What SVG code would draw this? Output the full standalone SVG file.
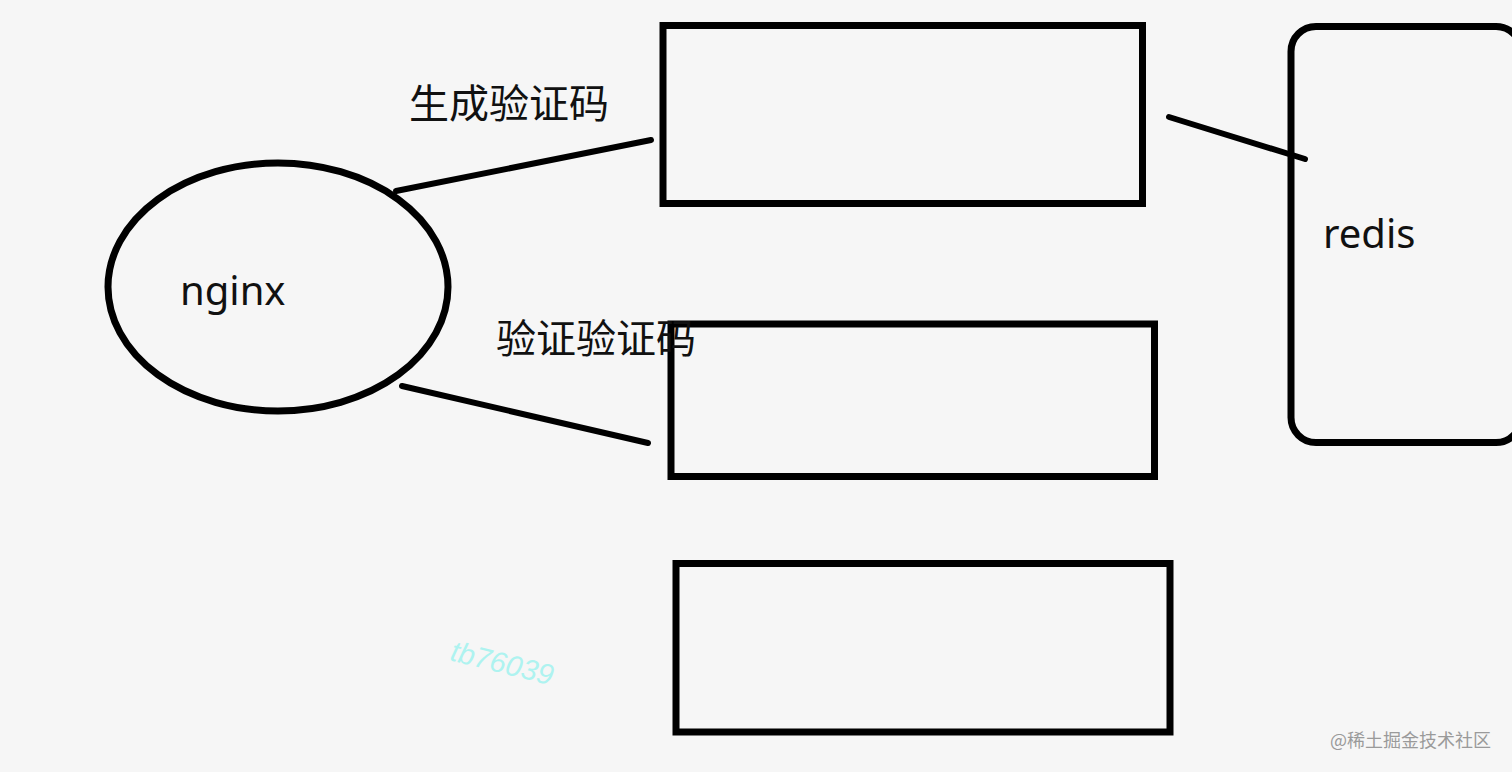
<svg xmlns="http://www.w3.org/2000/svg" width="1512" height="772" viewBox="0 0 1512 772">
<style>
.shape{fill:none;stroke:#000;stroke-width:7}
.conn{stroke:#000;stroke-width:6;stroke-linecap:round}
.lbl{font-family:"Noto Sans","Liberation Sans",sans-serif;fill:#111;font-size:40px}
.cjk{font-family:"Noto Sans CJK SC","Noto Sans",sans-serif;fill:#111;font-size:40px}
</style>
<rect x="0" y="0" width="1512" height="772" fill="#f6f6f6"/>
<g id="connectors">
<line class="conn" x1="396" y1="191" x2="651" y2="140"/>
<line class="conn" x1="402" y1="386" x2="648" y2="443"/>
<line class="conn" x1="1169" y1="117" x2="1305" y2="159"/>
</g>
<g id="nginx">
<ellipse class="shape" cx="278" cy="287" rx="170" ry="124" stroke-width="6"/>
<text class="lbl" x="180" y="305">nginx</text>
</g>
<g id="box-gen">
<rect class="shape" x="663" y="25.5" width="479.5" height="178"/>
</g>
<g id="box-verify">
<rect class="shape" x="671" y="324" width="483.5" height="152.5"/>
</g>
<g id="box-3">
<rect class="shape" x="676" y="563.5" width="494" height="168.5"/>
</g>
<g id="redis">
<rect class="shape" x="1291" y="26.5" width="230" height="416" rx="25" ry="25"/>
<text class="lbl" x="1323" y="248" font-size="38">redis</text>
</g>
<g id="labels">
<text class="cjk" x="409" y="118">生成验证码</text>
<text class="cjk" x="496" y="353">验证验证码</text>
</g>
<text x="449" y="660" transform="rotate(14 449 660)" font-family="Liberation Sans,sans-serif" font-style="italic" font-size="29" fill="#aef3f0">tb76039</text>
<text x="1330" y="747" font-family="Noto Sans CJK SC,sans-serif" font-size="18" fill="#9a9a9a">@稀土掘金技术社区</text>
</svg>
